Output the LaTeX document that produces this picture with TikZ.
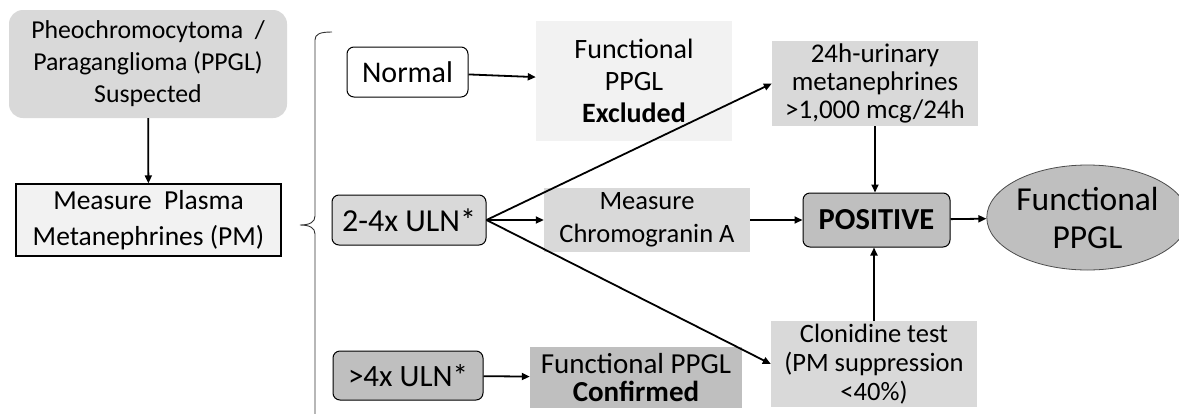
\documentclass[tikz,border=0pt]{standalone}
\usepackage{fontspec}
\setmainfont{Carlito}
\usetikzlibrary{arrows.meta,shapes.geometric}
\definecolor{gA}{HTML}{D9D9D9}
\definecolor{gB}{HTML}{F2F2F2}
\definecolor{gC}{HTML}{BFBFBF}
\tikzset{
  box/.style={inner sep=0pt,align=center,text=black},
  rbox/.style={box,rounded corners=7pt,draw=black,line width=1pt},
  arr/.style={line width=1.8pt,-{Triangle[length=8pt,width=7pt]}},
  dline/.style={line width=1.8pt,-{Triangle[length=8pt,width=7pt]}},
}
\newcommand{\fs}[2]{\fontsize{#1}{#2}\selectfont}
\begin{document}
\begin{tikzpicture}[x=1pt,y=-1pt]
\useasboundingbox (0,0) rectangle (1179,413);
\fill[white] (0,0) rectangle (1179,413);
% nodes
\node[box,fill=gA,rounded corners=14pt,minimum width=278pt,minimum height=108pt,font=\fs{25.8}{32}] (susp) at (148,64)
  {Pheochromocytoma~~/\\Paraganglioma (PPGL)\\Suspected};
\node[box,fill=gB,draw=black,line width=1.3pt,minimum width=265pt,minimum height=72pt,font=\fs{27.5}{36}] (meas) at (148.5,220)
  {Measure~~Plasma\\Metanephrines (PM)};
\node[rbox,fill=white,minimum width=121pt,minimum height=50pt,font=\fs{30}{34}] (norm) at (407.5,72)
  {Normal};
\node[box,fill=gB,minimum width=196pt,minimum height=120pt,font=\fs{28}{32}] (excl) at (634,81)
  {Functional\\PPGL\\\textbf{Excluded}};
\node[rbox,fill=gA,minimum width=154pt,minimum height=50pt,font=\fs{32}{34}] (uln24) at (409,220)
  {2-4x ULN*};
\node[box,fill=gA,minimum width=206pt,minimum height=64pt,font=\fs{26.5}{33}] (chromo) at (647,220)
  {Measure\\Chromogranin A};
\node[rbox,fill=gC,minimum width=150pt,minimum height=49pt,font=\fs{31}{34}] (uln4) at (408,375.5)
  {>4x ULN*};
\node[box,fill=gC,minimum width=212pt,minimum height=61pt,font=\fs{29}{28}] (conf) at (636,377.5)
  {Functional PPGL\\\textbf{Confirmed}};
\node[box,fill=gA,minimum width=206pt,minimum height=85pt,font=\fs{27}{28}] (urin) at (875,83.5)
  {24h-urinary\\metanephrines\\>1,000 mcg/24h};
\node[rbox,fill=gC,minimum width=147pt,minimum height=54pt,font=\fs{30.5}{32}] (pos) at (876.5,220)
  {\textbf{POSITIVE}};
\node[box,fill=gA,minimum width=206pt,minimum height=86pt,font=\fs{26.5}{29}] (clon) at (874,364)
  {Clonidine test\\(PM suppression\\<40\%)};
\node[box,ellipse,fill=gC,draw=black!70,line width=0.8pt,minimum width=185pt,minimum height=105pt,font=\fs{33.5}{38}] (func) at (1087.5,217.5)
  {Functional\\PPGL};
% brace
\coordinate (btip) at (300,225);
\draw[black!80,line width=0.9pt] (332,32) .. controls (320,32) and (315,34) .. (315,40)
  -- (315,216) .. controls (315,222) and (310,225) .. (btip)
  .. controls (310,225) and (315,228) .. (315,234) -- (315,420);
% connectors
\draw[arr] (susp) -- (meas);
\draw[arr] (norm) -- (excl);
\draw[arr] (uln24) -- (chromo);
\draw[arr] (uln4) -- (conf);
\draw[arr] (chromo) -- (pos);
\draw[arr] (urin) -- (urin.south |- pos.north);
\draw[arr] (clon) -- (clon.north |- pos.south);
\draw[arr] (pos) -- (func);
\draw[dline] (uln24.east) -- (urin.west);
\draw[dline] (uln24.east) -- (clon.west);
\end{tikzpicture}
\end{document}
